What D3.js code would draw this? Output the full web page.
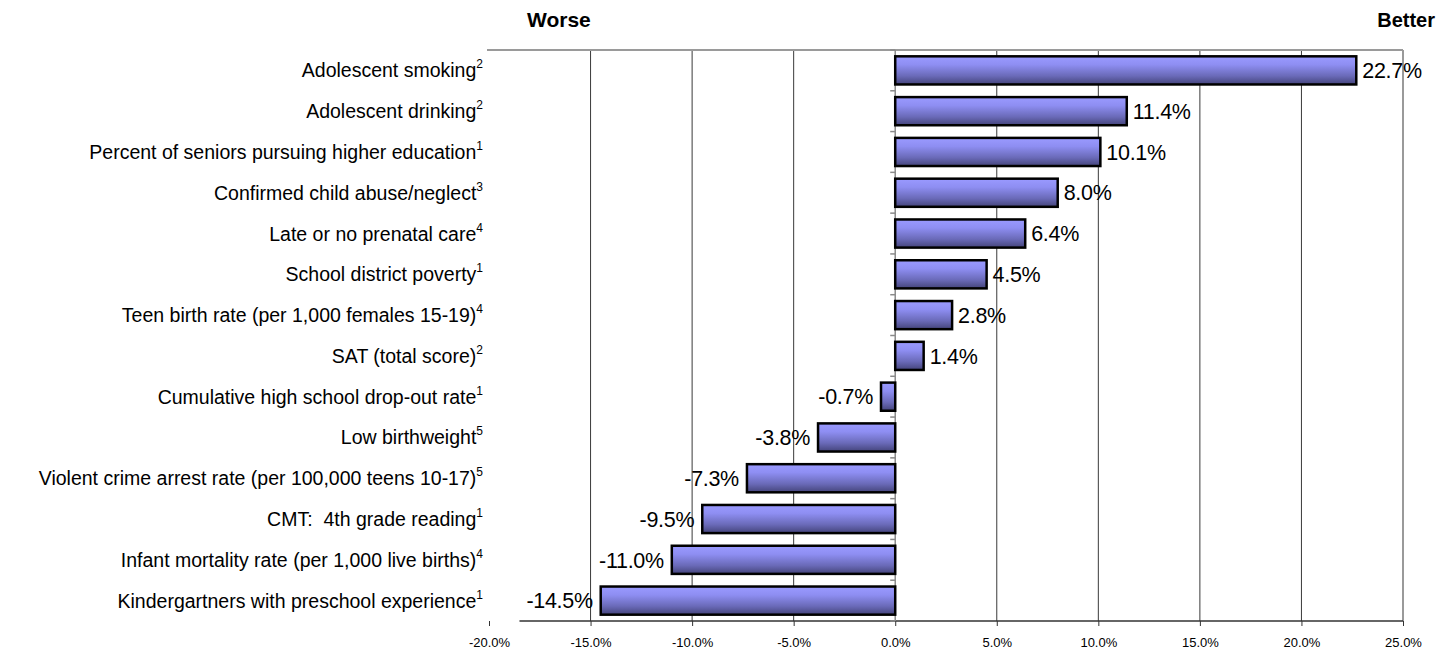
<!DOCTYPE html>
<html>
<head>
<meta charset="utf-8">
<script src="https://cdn.jsdelivr.net/npm/d3@7"></script>
<style>
  html, body { margin: 0; padding: 0; background: #fff; }
  svg { display: block; font-family: "Liberation Sans", Arial, sans-serif; }
  text { white-space: pre; }
</style>
</head>
<body>
<svg id="chart" width="1439" height="651"></svg>
<script>
// Indicator names, footnote markers and percent change (positive = better)
const categories = [
  "Adolescent smoking",
  "Adolescent drinking",
  "Percent of seniors pursuing higher education",
  "Confirmed child abuse/neglect",
  "Late or no prenatal care",
  "School district poverty",
  "Teen birth rate (per 1,000 females 15-19)",
  "SAT (total score)",
  "Cumulative high school drop-out rate",
  "Low birthweight",
  "Violent crime arrest rate (per 100,000 teens 10-17)",
  "CMT:  4th grade reading",
  "Infant mortality rate (per 1,000 live births)",
  "Kindergartners with preschool experience"
];
const footnotes = ["2", "2", "1", "3", "4", "1", "4", "2", "1", "5", "5", "1", "4", "1"];
const values = [22.7, 11.4, 10.1, 8.0, 6.4, 4.5, 2.8, 1.4, -0.7, -3.8, -7.3, -9.5, -11.0, -14.5];
const tickValues = [-20, -15, -10, -5, 0, 5, 10, 15, 20, 25];

const svg = d3.select("#chart");
const plot = { left: 489, right: 1403, top: 50, bottom: 621 };

const x = d3.scaleLinear().domain([-20, 25]).range([plot.left, plot.right]);
const y = d3.scaleBand()
  .domain(categories)
  .range([plot.top, plot.bottom])
  .paddingInner(0.31)
  .paddingOuter(0.155);

// Vertical bar shading: light periwinkle on top fading to dark slate
const defs = svg.append("defs");
const grad = defs.append("linearGradient")
  .attr("id", "barFill").attr("x1", 0).attr("y1", 0).attr("x2", 0).attr("y2", 1);
grad.append("stop").attr("offset", "0%").attr("stop-color", "#9a9aff");
grad.append("stop").attr("offset", "30%").attr("stop-color", "#8e8ef2");
grad.append("stop").attr("offset", "70%").attr("stop-color", "#6a6ab8");
grad.append("stop").attr("offset", "100%").attr("stop-color", "#44447a");

// Vertical gridlines
svg.append("g")
  .selectAll("line")
  .data(tickValues.filter(d => d !== -20 && d !== 0 && d !== 25))
  .join("line")
  .attr("x1", d => x(d)).attr("x2", d => x(d))
  .attr("y1", plot.top).attr("y2", plot.bottom)
  .attr("stroke", "#3a3a3a").attr("stroke-width", 1);

// Plot frame: top and right edges
svg.append("line")
  .attr("x1", x(-20) - 2).attr("x2", x(25))
  .attr("y1", plot.top).attr("y2", plot.top)
  .attr("stroke", "#9a9a9a").attr("stroke-width", 2);
svg.append("line")
  .attr("x1", x(25)).attr("x2", x(25))
  .attr("y1", plot.top).attr("y2", plot.bottom)
  .attr("stroke", "#9a9a9a").attr("stroke-width", 2);

// Bottom value axis
const xAxis = d3.axisBottom(x)
  .tickValues(tickValues)
  .tickFormat(d => d.toFixed(1) + "%")
  .tickSize(5)
  .tickPadding(12);
const gx = svg.append("g")
  .attr("transform", `translate(0,${plot.bottom})`)
  .call(xAxis);
gx.select(".domain").remove();
gx.selectAll(".tick line").attr("stroke", "#333");
gx.selectAll(".tick text")
  .attr("font-family", "Liberation Sans, Arial, sans-serif")
  .attr("font-size", 13)
  .attr("fill", "#000");
gx.append("line")
  .attr("x1", x(-18.5)).attr("x2", x(25))
  .attr("y1", 0).attr("y2", 0)
  .attr("stroke", "#333").attr("stroke-width", 1.5);

// Zero (category) axis with tick marks between categories
svg.append("line")
  .attr("x1", x(0)).attr("x2", x(0))
  .attr("y1", plot.top).attr("y2", plot.bottom)
  .attr("stroke", "#8a8a8a").attr("stroke-width", 1.5);
const step = y.step();
svg.append("g")
  .selectAll("line")
  .data(d3.range(categories.length + 1))
  .join("line")
  .attr("x1", x(0) - 5).attr("x2", x(0))
  .attr("y1", i => plot.top + i * step).attr("y2", i => plot.top + i * step)
  .attr("stroke", "#8a8a8a").attr("stroke-width", 1.5);

// Bars
svg.append("g")
  .selectAll("rect")
  .data(values)
  .join("rect")
  .attr("x", d => x(Math.min(0, d)))
  .attr("y", (d, i) => y(categories[i]))
  .attr("width", d => Math.abs(x(d) - x(0)))
  .attr("height", y.bandwidth())
  .attr("fill", "url(#barFill)")
  .attr("stroke", "#000")
  .attr("stroke-width", 2.5);

// Value labels
svg.append("g")
  .selectAll("text")
  .data(values)
  .join("text")
  .attr("x", d => d >= 0 ? x(d) + 6 : x(d) - 8)
  .attr("y", (d, i) => y(categories[i]) + y.bandwidth() / 2)
  .attr("dy", "0.36em")
  .attr("text-anchor", d => d >= 0 ? "start" : "end")
  .attr("font-size", 21.5)
  .attr("letter-spacing", -0.3)
  .attr("fill", "#000")
  .text(d => d.toFixed(1) + "%");

// Category labels with footnote superscripts
const labels = svg.append("g")
  .selectAll("text")
  .data(categories)
  .join("text")
  .attr("x", 483)
  .attr("y", d => y(d) + y.bandwidth() / 2)
  .attr("dy", "0.36em")
  .attr("text-anchor", "end")
  .attr("font-size", 19.5)
  .attr("fill", "#000");
labels.append("tspan").text(d => d);
labels.append("tspan")
  .attr("font-size", 12)
  .attr("dy", "-0.75em")
  .text((d, i) => footnotes[i]);

// Direction headers
svg.append("text")
  .attr("x", 527).attr("y", 27)
  .attr("font-size", 21).attr("font-weight", "bold")
  .text("Worse");
svg.append("text")
  .attr("x", 1435).attr("y", 27)
  .attr("text-anchor", "end")
  .attr("font-size", 20).attr("font-weight", "bold")
  .text("Better");
</script>
</body>
</html>
